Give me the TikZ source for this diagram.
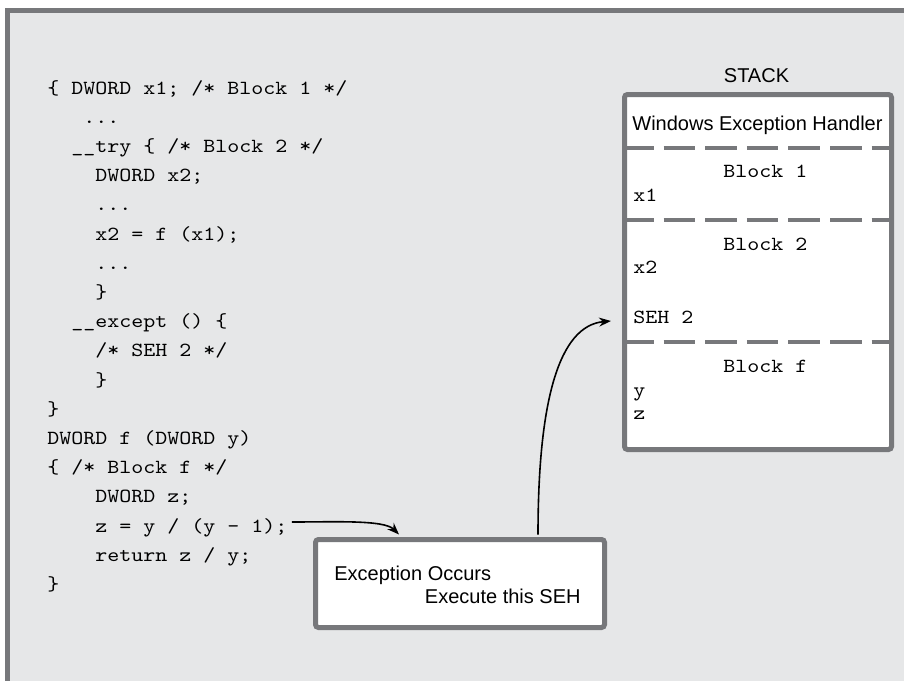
\documentclass[tikz,border=0pt]{standalone}
\usepackage{fontspec}
\setmainfont{Liberation Sans}
\usepackage{tikz}
\usetikzlibrary{arrows.meta}
\definecolor{framegray}{HTML}{77787B}
\definecolor{panel}{HTML}{E6E7E8}
\tikzstyle{src} = [anchor=base west, inner sep=0pt, font=\ttfamily\fontsize{10}{12}\selectfont, xscale=1.143, transform shape]
\tikzstyle{sanstext} = [anchor=base west, inner sep=0pt, font=\fontsize{10}{12}\selectfont]
\tikzstyle{box} = [draw=framegray, line width=2.5pt, fill=white, rounded corners=1.5pt]
\tikzstyle{sep} = [draw=framegray, line width=2pt, dash pattern=on 15.8pt off 5pt]
\tikzstyle{arrow} = [line width=0.8pt, -{Stealth[length=6pt,width=4.5pt,inset=2pt]}]

\begin{document}
\begin{tikzpicture}[x=0.5pt,y=-0.5pt]
   \useasboundingbox (0,0) rectangle (904,680);
   \fill [white] (0,0) rectangle (904,680);
   \clip (0,0) rectangle (904,680);
   \draw [draw=framegray, line width=2.5pt, fill=panel] (7.5,10) rectangle (930,700);
   % source code
   \node (c0) [src] at (47,94) {\{ DWORD x1; /* Block 1 */};
   \node (c1) [src] at (83,123.2) {...};
   \node (c2) [src] at (71,152.4) {\_\_try \{ /* Block 2 */};
   \node (c3) [src] at (95,181.6) {DWORD x2;};
   \node (c4) [src] at (95,210.8) {...};
   \node (c5) [src] at (95,240) {x2 = f (x1);};
   \node (c6) [src] at (95,269.2) {...};
   \node (c7) [src] at (95,298.4) {\}};
   \node (c8) [src] at (71,327.6) {\_\_except () \{};
   \node (c9) [src] at (95,356.8) {/* SEH 2 */};
   \node (c10) [src] at (95,386) {\}};
   \node (c11) [src] at (47,415.2) {\}};
   \node (c12) [src] at (47,444.4) {DWORD f (DWORD y)};
   \node (c13) [src] at (47,473.6) {\{ /* Block f */};
   \node (c14) [src] at (95,502.8) {DWORD z;};
   \node (c15) [src] at (95,532) {z = y / (y - 1);};
   \node (c16) [src] at (95,561.2) {return z / y;};
   \node (c17) [src] at (47,590.4) {\}};
   % stack
   \node (title) [sanstext, anchor=base] at (756.5,82) {STACK};
   \node (stack) [box, minimum width=133.5pt, minimum height=177.5pt] at (758,272) {};
   \draw [sep] (stack.west |- 0,148) -- (stack.east |- 0,148);
   \draw [sep] (stack.west |- 0,220) -- (stack.east |- 0,220);
   \draw [sep] (stack.west |- 0,342) -- (stack.east |- 0,342);
   \node (handler) [sanstext] at (632,130) {Windows Exception Handler};
   \node (blk1) [src] at (723,177) {Block 1};
   \node (x1) [src] at (633,201) {x1};
   \node (blk2) [src] at (723,250) {Block 2};
   \node (x2) [src] at (633,273) {x2};
   \node (seh2) [src] at (633,323) {SEH 2};
   \node (blkf) [src] at (723,372) {Block f};
   \node (y) [src] at (633,396) {y};
   \node (z) [src] at (633,419) {z};
   % exception box
   \node (exc) [box, minimum width=144.5pt, minimum height=44pt] at (460,583.5) {};
   \node (occ) [sanstext] at (334,580) {Exception Occurs};
   \node (exe) [sanstext, anchor=base east] at (581,603) {Execute this SEH};
   \draw [arrow] ([xshift=2pt,yshift=5pt]c15.base east) to[out=0,in=135,in looseness=0.5] ([xshift=-30.5pt,yshift=1.25pt]exc.north);
   \draw [arrow] ([xshift=39pt,yshift=1.25pt]exc.north) to[out=90,in=185,out looseness=1.5,in looseness=0.6] ([xshift=-11pt,yshift=1pt]seh2.base west);
\end{tikzpicture}
\end{document}
